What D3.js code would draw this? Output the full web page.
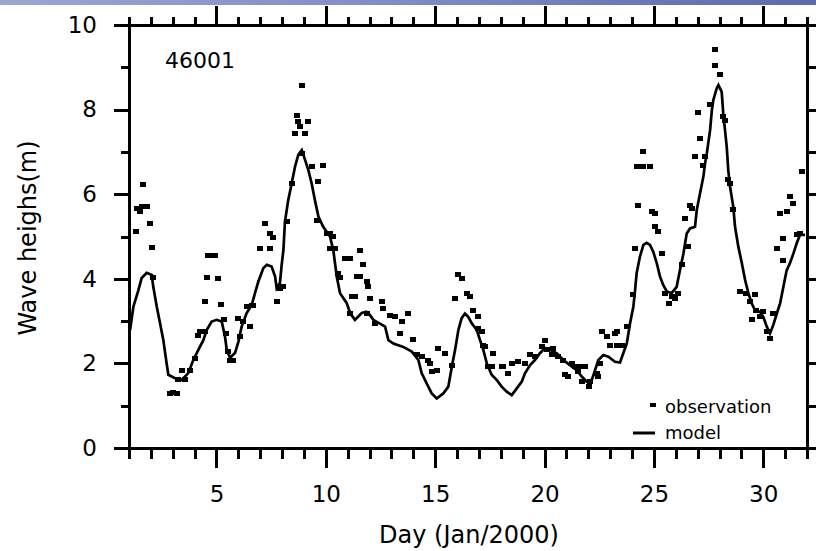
<!DOCTYPE html>
<html>
<head>
<meta charset="utf-8">
<script src="https://cdn.jsdelivr.net/npm/d3@7"></script>
<style>
  html, body { margin: 0; padding: 0; background: #fff; }
  svg { display: block; }
  text { font-family: "DejaVu Sans", sans-serif; fill: #000; }
</style>
</head>
<body>
<svg id="chart" width="816" height="551"></svg>
<script>
// ---- data ----
const stationName = "46001";
const xTitle = "Day (Jan/2000)";
const yTitle = "Wave heighs(m)";
const legendLabels = ["observation", "model"];
const xTickLabels = [5, 10, 15, 20, 25, 30];
const yTickLabels = [0, 2, 4, 6, 8, 10];

// model: day, wave height (m)
const modelDay = [1.05,1.20,1.43,1.58,1.81,2.04,2.11,2.27,2.42,2.57,2.72,2.80,3.10,3.41,3.71,3.94,4.17,4.40,4.55,4.78,5.01,5.24,5.39,5.47,5.62,5.85,6.00,6.15,6.38,6.61,6.76,6.91,7.14,7.30,7.52,7.68,7.75,7.90,7.98,8.06,8.13,8.28,8.44,8.59,8.74,8.90,9.05,9.20,9.35,9.50,9.66,9.88,10.19,10.34,10.50,10.65,10.95,11.11,11.33,11.64,11.85,12.02,12.17,12.71,12.86,13.09,13.54,13.93,14.23,14.38,14.61,14.84,15.07,15.37,15.60,15.76,15.91,16.06,16.21,16.36,16.51,16.67,16.90,17.05,17.20,17.36,17.58,17.81,18.04,18.27,18.50,18.73,18.96,19.11,19.34,19.56,19.79,20.02,20.25,20.56,20.86,21.16,21.47,21.70,21.93,22.16,22.31,22.46,22.69,22.92,23.22,23.45,23.60,23.76,23.91,24.06,24.14,24.21,24.36,24.52,24.67,24.82,24.97,25.13,25.28,25.43,25.59,25.81,26.04,26.19,26.35,26.50,26.65,26.88,26.96,27.11,27.26,27.34,27.42,27.57,27.65,27.72,27.87,27.95,28.10,28.17,28.25,28.33,28.40,28.48,28.63,28.71,28.86,29.02,29.17,29.32,29.47,29.62,29.85,30.00,30.16,30.31,30.46,30.62,30.77,30.92,31.07,31.22,31.38,31.53,31.68,31.91];
const modelHs  = [2.79,3.34,3.73,4.02,4.14,4.09,3.81,3.34,2.95,2.55,2.00,1.73,1.65,1.61,1.77,2.08,2.32,2.55,2.79,2.99,3.03,2.99,2.63,2.32,2.13,2.25,2.51,2.87,3.19,3.38,3.66,3.93,4.25,4.33,4.29,4.05,3.78,3.90,4.33,4.68,5.35,5.86,6.26,6.65,6.93,7.04,6.81,6.57,6.26,5.86,5.47,5.23,5.00,4.68,4.05,3.66,3.43,3.19,3.03,3.19,3.22,3.14,3.03,2.87,2.55,2.47,2.39,2.28,2.08,1.77,1.53,1.29,1.17,1.29,1.45,1.92,2.32,2.79,3.07,3.18,3.10,2.95,2.79,2.55,2.32,2.00,1.73,1.61,1.45,1.33,1.25,1.41,1.57,1.77,1.96,2.08,2.24,2.36,2.32,2.24,2.08,1.96,1.84,1.69,1.57,1.61,1.84,2.08,2.20,2.16,2.04,2.02,2.24,2.47,2.95,3.34,3.73,4.13,4.52,4.80,4.85,4.80,4.64,4.37,4.05,3.85,3.70,3.66,3.81,4.20,4.60,5.07,5.19,5.23,5.63,6.02,6.41,6.73,6.97,7.52,7.99,8.23,8.50,8.58,8.42,7.91,7.52,7.12,6.57,6.18,5.70,5.23,4.76,4.37,3.97,3.66,3.42,3.26,3.22,3.10,2.87,2.71,2.91,3.18,3.42,3.81,4.20,4.37,4.60,4.84,5.04,5.04];

// observations: day, wave height (m)
const obsDay = [1.65,1.35,1.58,1.81,1.50,1.96,1.32,2.04,2.11,2.87,3.03,3.18,3.25,3.41,3.56,3.79,4.02,4.17,4.25,4.48,4.48,4.55,4.78,4.60,4.93,5.06,5.21,5.34,5.44,5.54,5.62,5.77,6.00,6.08,6.23,6.38,6.53,6.61,6.68,6.99,7.22,7.45,7.60,7.45,7.75,7.90,8.06,8.21,8.44,8.59,8.67,8.74,8.82,8.90,8.90,9.05,9.20,9.38,9.58,9.66,9.88,10.04,10.19,10.19,10.34,10.42,10.57,10.65,10.88,11.11,11.11,11.18,11.33,11.41,11.56,11.56,11.71,11.87,11.94,11.87,12.02,12.25,12.55,12.63,12.93,13.16,13.39,13.47,13.77,14.00,14.15,14.38,14.69,14.76,14.84,15.07,15.14,15.45,15.76,15.91,16.06,16.21,16.44,16.59,16.74,16.97,16.97,17.13,17.20,17.28,17.43,17.58,17.66,18.04,18.11,18.34,18.50,18.80,19.11,19.34,19.56,19.87,20.02,20.10,20.40,20.33,20.63,20.86,20.94,21.09,21.25,21.39,21.54,21.62,21.85,21.70,22.08,22.01,22.39,22.46,22.54,22.61,22.84,22.99,23.22,23.30,23.30,23.53,23.76,24.06,24.14,24.29,24.52,24.21,24.52,24.82,24.90,25.05,25.05,25.20,25.36,25.52,25.67,25.82,25.97,26.12,26.28,26.43,26.58,26.65,26.73,26.88,27.03,27.11,27.26,27.34,27.57,27.79,27.79,28.02,28.17,28.25,28.40,28.48,28.63,28.93,29.23,29.38,29.61,29.47,29.69,29.85,30.00,30.16,30.31,30.46,30.62,30.92,30.92,30.77,31.07,31.22,31.38,31.53,31.68,31.76];
const obsHs  = [6.23,5.67,5.70,5.72,5.59,5.31,5.11,4.74,4.03,1.30,1.31,1.30,1.61,1.84,1.61,1.84,2.12,2.65,2.75,2.75,3.46,4.03,4.54,4.54,4.54,4.01,3.40,3.03,2.71,2.28,2.08,2.08,3.07,2.63,2.99,3.34,2.87,3.38,3.38,4.72,5.31,5.07,4.98,4.72,3.46,3.78,3.81,5.35,6.26,7.44,7.87,7.71,7.60,8.58,6.97,7.44,7.71,6.65,5.39,6.30,6.69,5.08,5.08,4.72,5.00,4.72,4.13,4.02,4.48,4.48,3.18,3.58,3.58,4.05,4.05,4.68,4.33,3.93,3.81,3.18,3.54,2.95,3.46,3.30,3.14,3.10,2.71,2.99,3.18,2.57,2.20,2.16,2.08,2.00,1.80,1.84,2.36,2.24,1.96,3.54,4.09,4.01,3.66,3.58,3.26,3.10,2.83,2.75,2.43,2.39,1.92,1.92,2.24,1.92,1.92,1.77,2.00,2.04,2.00,2.20,2.16,2.39,2.55,2.32,2.36,2.20,2.16,2.08,1.73,1.69,2.00,1.92,1.80,1.92,1.92,1.57,1.57,1.45,1.77,1.69,2.00,2.75,2.63,2.43,2.71,2.43,2.75,2.43,2.87,3.62,4.72,5.73,7.00,6.65,6.65,6.65,5.59,5.55,5.23,5.11,4.60,3.66,3.42,3.58,3.54,3.66,4.33,5.43,4.76,5.74,5.67,6.89,7.93,7.32,6.69,6.89,8.11,9.41,9.05,8.82,7.83,7.75,6.34,6.26,5.63,3.70,3.66,3.46,3.62,3.03,3.26,3.10,3.22,2.75,2.59,3.18,4.72,4.44,4.96,5.55,5.59,5.94,5.78,5.04,5.08,6.53];

// ---- layout ----
const svg = d3.select("#chart");
const pL = 129, pR = 807, pT = 25, pB = 448;
const x = d3.scaleLinear().domain([1, 32]).range([pL, pR]);
const y = d3.scaleLinear().domain([0, 10]).range([pB, pT]);

// top header band
const defs = svg.append("defs");
const grad = defs.append("linearGradient").attr("id", "band").attr("x1", "0").attr("x2", "1").attr("y1", "0").attr("y2", "0");
grad.append("stop").attr("offset", "0").attr("stop-color", "#9ba6d2");
grad.append("stop").attr("offset", "0.5").attr("stop-color", "#7f8cc4");
grad.append("stop").attr("offset", "1").attr("stop-color", "#5d69ab");
svg.append("rect").attr("x", 0).attr("y", 0).attr("width", 816).attr("height", 5).attr("fill", "url(#band)");

const allDays = d3.range(1, 33);
const majorDays = allDays.filter(d => d % 5 === 0);
const minorDays = allDays.filter(d => d % 5 !== 0);

function styleAxis(g) {
  g.select(".domain").remove();
  g.selectAll(".tick line").attr("stroke", "#000").attr("stroke-width", 3).attr("shape-rendering", "crispEdges");
  g.selectAll(".tick text").attr("font-family", "DejaVu Sans").attr("font-size", 23).attr("fill", "#000");
}

// bottom axis
svg.append("g").attr("transform", `translate(0,${pB})`)
  .call(d3.axisBottom(x).tickValues(minorDays).tickSize(11).tickFormat(""))
  .call(styleAxis);
svg.append("g").attr("transform", `translate(0,${pB})`)
  .call(d3.axisBottom(x).tickValues(xTickLabels).tickSize(20).tickPadding(18).tickFormat(d3.format("d")))
  .call(styleAxis);

// top axis
svg.append("g").attr("transform", `translate(0,${pT})`)
  .call(d3.axisTop(x).tickValues(minorDays).tickSize(8).tickFormat(""))
  .call(styleAxis);
svg.append("g").attr("transform", `translate(0,${pT})`)
  .call(d3.axisTop(x).tickValues(majorDays).tickSize(19).tickFormat(""))
  .call(styleAxis);

// left axis
svg.append("g").attr("transform", `translate(${pL},0)`)
  .call(d3.axisLeft(y).tickValues([1, 3, 5, 7, 9]).tickSize(8).tickFormat(""))
  .call(styleAxis);
svg.append("g").attr("transform", `translate(${pL},0)`)
  .call(d3.axisLeft(y).tickValues(yTickLabels).tickSize(15).tickPadding(17).tickFormat(d3.format("d")))
  .call(styleAxis);

// right axis
svg.append("g").attr("transform", `translate(${pR},0)`)
  .call(d3.axisRight(y).tickValues(d3.range(0, 11)).tickSize(12).tickFormat(""))
  .call(styleAxis);

// frame
svg.append("rect").attr("x", pL).attr("y", pT).attr("width", pR - pL).attr("height", pB - pT)
  .attr("fill", "none").attr("stroke", "#000").attr("stroke-width", 3).attr("shape-rendering", "crispEdges");

// model line
const modelData = modelDay.map((d, i) => [d, modelHs[i]]);
svg.append("path").datum(modelData)
  .attr("fill", "none").attr("stroke", "#000").attr("stroke-width", 2.7).attr("stroke-linejoin", "miter")
  .attr("d", d3.line().x(d => x(d[0])).y(d => y(d[1])));

// observations
const obsData = obsDay.map((d, i) => [d, obsHs[i]]);
svg.append("g").selectAll("rect").data(obsData).join("rect")
  .attr("x", d => x(d[0]) - 3).attr("y", d => y(d[1]) - 2.5)
  .attr("width", 6).attr("height", 5).attr("fill", "#000").attr("shape-rendering", "crispEdges");

// station label
svg.append("text").attr("x", 165).attr("y", 68).attr("font-size", 22).text(stationName);

// axis titles
svg.append("text").attr("x", (pL + pR) / 2 + 1).attr("y", 543).attr("text-anchor", "middle")
  .attr("font-size", 24).text(xTitle);
svg.append("text").attr("transform", "translate(36,238) rotate(-90)").attr("text-anchor", "middle")
  .attr("font-size", 24).text(yTitle);

// legend
svg.append("rect").attr("x", 650).attr("y", 403).attr("width", 6).attr("height", 4).attr("fill", "#000");
svg.append("text").attr("x", 665).attr("y", 413).attr("font-size", 18).text(legendLabels[0]);
svg.append("line").attr("x1", 633).attr("x2", 655).attr("y1", y(0) - 15).attr("y2", y(0) - 15)
  .attr("stroke", "#000").attr("stroke-width", 3);
svg.append("text").attr("x", 665).attr("y", 439).attr("font-size", 18).text(legendLabels[1]);
</script>
</body>
</html>
